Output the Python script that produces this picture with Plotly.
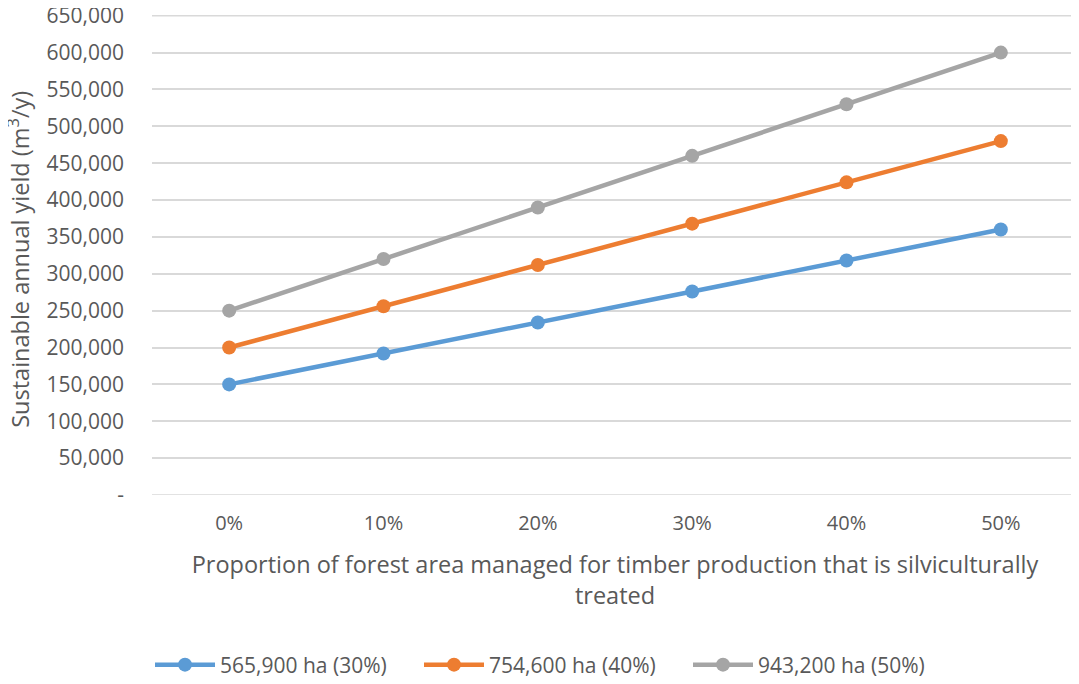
import plotly.graph_objects as go

categories = ["0%", "10%", "20%", "30%", "40%", "50%"]
series_names = ["565,900 ha (30%)", "754,600 ha (40%)", "943,200 ha (50%)"]
blue_vals = [150000, 192000, 234000, 276000, 318000, 360000]
orange_vals = [200000, 256000, 312000, 368000, 424000, 480000]
gray_vals = [250000, 320000, 390000, 460000, 530000, 600000]
colors = ["#5B9BD5", "#ED7D31", "#A5A5A5"]
tick_vals = list(range(0, 650001, 50000))
tick_text = ["-"] + [f"{v:,}" for v in tick_vals[1:]]

FONT = "Open Sans"
TXT = "#595959"
GRID = "#D9D9D9"
W, H = 1071, 676  # page body adds an 8px margin
L, R, T, B = 144, 1, 7, 189

fig = go.Figure()
for name, vals, c in zip(series_names, [blue_vals, orange_vals, gray_vals], colors):
    fig.add_trace(go.Scatter(
        x=categories, y=vals, name=name, mode="lines+markers",
        line=dict(color=c, width=4.5),
        marker=dict(color=c, size=14),
    ))

fig.update_layout(
    width=W, height=H,
    paper_bgcolor="white", plot_bgcolor="white",
    margin=dict(l=L, r=R, t=T, b=B, autoexpand=False),
    font=dict(family=FONT, color=TXT, size=20),
    showlegend=True,
    legend=dict(orientation="h", x=142 / W, xanchor="left", xref="container",
                y=19 / H, yanchor="middle", yref="container",
                font=dict(size=21, color=TXT), itemwidth=60, entrywidth=194,
                traceorder="normal"),
    xaxis=dict(type="category", range=[-0.5, 5.5], showgrid=False, zeroline=False,
               showline=False, ticks="", tickfont=dict(size=20, color=TXT),
               ticklabelstandoff=14,
               title=dict(text="Proportion of forest area managed for timber production that is silviculturally<br>treated",
                          font=dict(size=23.5, color=TXT), standoff=21)),
    yaxis=dict(range=[0, 651000], tickvals=tick_vals, ticktext=tick_text,
               ticklabeloverflow="allow",
               showgrid=True, gridcolor=GRID, gridwidth=1.5, zeroline=False,
               showline=False, ticks="", tickfont=dict(size=21, color=TXT), ticklabelstandoff=27),
)
plot_w = W - L - R
fig.add_annotation(text="Sustainable annual yield (m<sup>3</sup>/y)", textangle=-90,
                   xref="paper", yref="paper", x=(11 - L) / plot_w, y=0.49,
                   xanchor="center", yanchor="middle", showarrow=False,
                   font=dict(size=23.5, color=TXT, family=FONT))
for yv in (tick_vals[0], tick_vals[-1]):
    fig.add_shape(type="line", xref="paper", yref="y", x0=0, x1=1, y0=yv, y1=yv,
                  line=dict(color=GRID, width=1.5), layer="below")

fig.write_html("out.html")
